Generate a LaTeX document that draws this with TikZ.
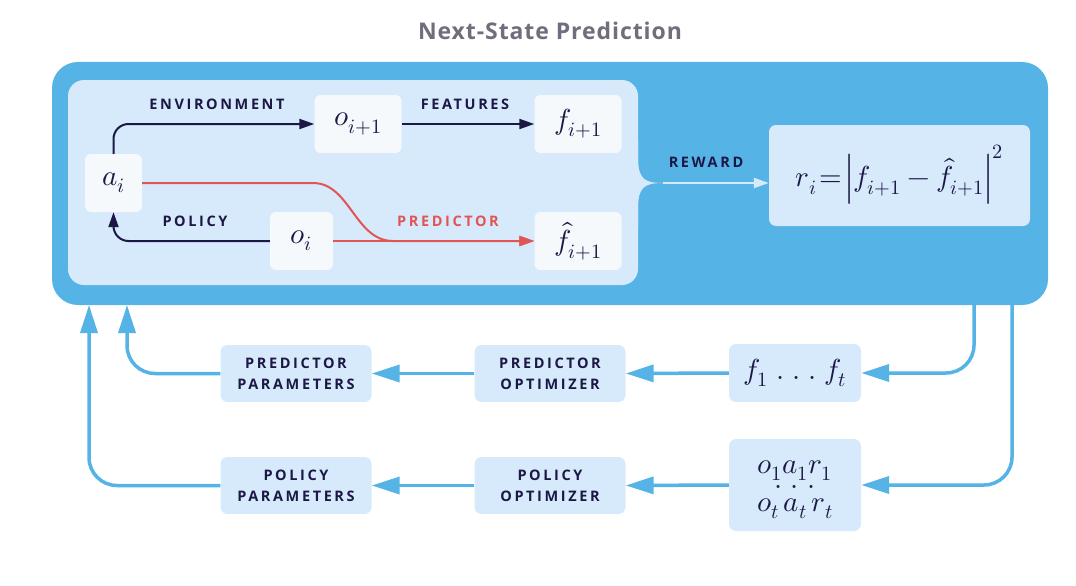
\documentclass[tikz,border=0pt]{standalone}
\usepackage{fontspec}
\usepackage{unicode-math}
\setmathfont{Latin Modern Math}
\newfontfamily\titlefont[LetterSpace=4]{Open Sans}
\newfontfamily\capsfont[LetterSpace=18]{Open Sans}
\usetikzlibrary{arrows.meta}

\definecolor{skyblue}{HTML}{56B3E5}
\definecolor{paleblue}{HTML}{D6EAFB}
\definecolor{cellwhite}{HTML}{F5F9FC}
\definecolor{navy}{HTML}{1C1745}
\definecolor{predred}{HTML}{E05555}
\definecolor{titlegray}{HTML}{6F6E7D}

\newcommand{\mathsz}{\fontsize{29}{32}\selectfont}
\newcommand{\capsz}{\capsfont\bfseries\fontsize{14.5}{21}\selectfont}

\begin{document}
\begin{tikzpicture}[x=1pt, y=-1pt,
    cell/.style={fill=cellwhite, rounded corners=6pt, minimum height=58pt, inner sep=0pt, text=navy, font=\mathsz},
    panel/.style={fill=paleblue, rounded corners=7pt, inner sep=0pt, align=center, text=navy},
    tag/.style={text=navy, font=\capsz, inner sep=0pt},
    line/.style={text=navy, font=\mathsz, inner sep=0pt, anchor=base},
    darr/.style={navy, line width=2pt, -{Triangle[length=15pt,width=10pt]}},
    rarr/.style={predred, line width=2pt, -{Triangle[length=15pt,width=10pt]}},
    barr/.style={skyblue, line width=3.5pt, rounded corners=28pt, -{Triangle[length=28pt,width=17pt]}}]
    \useasboundingbox (0,0) rectangle (1076,586);

    % title and big box
    \node[text=titlegray, font=\titlefont\bfseries\fontsize{23}{28}\selectfont] (title) at (550,31) {Next-State Prediction};
    \node[fill=skyblue, rounded corners=26pt, minimum width=996pt, minimum height=243pt, inner sep=0pt] (outer) at (550,183.5) {};
    \fill[paleblue, rounded corners=16pt] (68,80) rectangle (638,285);
    \fill[paleblue] (628,140) -- (638,140) -- (638,157) .. controls (638,180) and (645,183) .. (664,183)
        .. controls (645,183) and (638,186) .. (638,209) -- (638,226) -- (628,226) -- cycle;
    \coordinate (tip) at (663,183);

    % inner loop
    \node[cell, minimum width=57pt] (ai) at (113.5,183) {$a_i$};
    \node[cell, minimum width=87pt] (onext) at (358,124) {$o_{i+1}$};
    \node[cell, minimum width=87pt] (fnext) at (578,124) {$f_{i+1}$};
    \node[cell, minimum width=63pt] (oi) at (301.5,241) {$o_i$};
    \node[cell, minimum width=87pt] (fhat) at (578,241) {$\hat{f}_{i+1}$};

    \draw[darr, rounded corners=15pt] (ai.north) |- (onext.west);
    \draw[darr] (onext.east) -- (fnext.west);
    \draw[darr, rounded corners=15pt] (oi.west) -| (ai.south);
    \draw[rarr] (ai.east) -- (313,183) .. controls (350,183) and (355,241) .. (393,241) -- (fhat.west);
    \draw[rarr] (oi.east) -- (fhat.west);

    \node[tag] (lenv) at (217,104) {ENVIRONMENT};
    \node[tag] (lfeat) at (465,104) {FEATURES};
    \node[tag] (lpol) at (195,221) {POLICY};
    \node[tag, text=predred] (lpred) at (448,221) {PREDICTOR};

    % reward
    \node[panel, minimum width=261pt, minimum height=101pt, font=\mathsz] (reward) at (899.5,175.5)
        {$r_i\!=\!\Bigl| f_{i+1} - \hat{f}_{i+1} \Bigr|^2$};
    \draw[paleblue, line width=2pt, -{Triangle[length=15pt,width=10pt]}] (tip) -- (tip -| reward.west);
    \node[tag] (lrew) at (706,162) {REWARD};

    % training loop
    \node[panel, minimum width=132pt, minimum height=58pt, font=\mathsz] (fs) at (795,373)
        {$f_1 \mkern5mu.\mkern5mu.\mkern5mu.\mkern5mu f_t$};
    \node[panel, minimum width=132pt, minimum height=92pt] (oar) at (795,485) {};
    \node[line] (oarfirst) at (795,473) {$o_1 a_1 r_1$};
    \node[line] (oardots) at (795,488) {$.\mkern5mu.\mkern5mu.$};
    \node[line] (oarlast) at (795,511) {$o_t\,a_t\,r_t$};
    \node[panel, minimum width=151pt, minimum height=57pt, font=\capsz] (popt) at (550,373.5) {PREDICTOR\\OPTIMIZER};
    \node[panel, minimum width=151pt, minimum height=57pt, font=\capsz] (qopt) at (550,485.5) {POLICY\\OPTIMIZER};
    \node[panel, minimum width=151pt, minimum height=57pt, font=\capsz] (ppar) at (296,373.5) {PREDICTOR\\PARAMETERS};
    \node[panel, minimum width=151pt, minimum height=57pt, font=\capsz] (qpar) at (296,485.5) {POLICY\\PARAMETERS};

    \coordinate (outF) at (974,305);
    \coordinate (outO) at (1012,305);
    \coordinate (inP) at (127,305);
    \coordinate (inQ) at (89,305);

    \draw[barr] (outF) |- (fs.east);
    \draw[barr] (outO) |- (oar.east);
    \draw[barr] (fs.west) -- (popt.east);
    \draw[barr] (oar.west) -- (qopt.east);
    \draw[barr] (popt.west) -- (ppar.east);
    \draw[barr] (qopt.west) -- (qpar.east);
    \draw[barr] (ppar.west) -| (inP);
    \draw[barr] (qpar.west) -| (inQ);
\end{tikzpicture}
\end{document}
